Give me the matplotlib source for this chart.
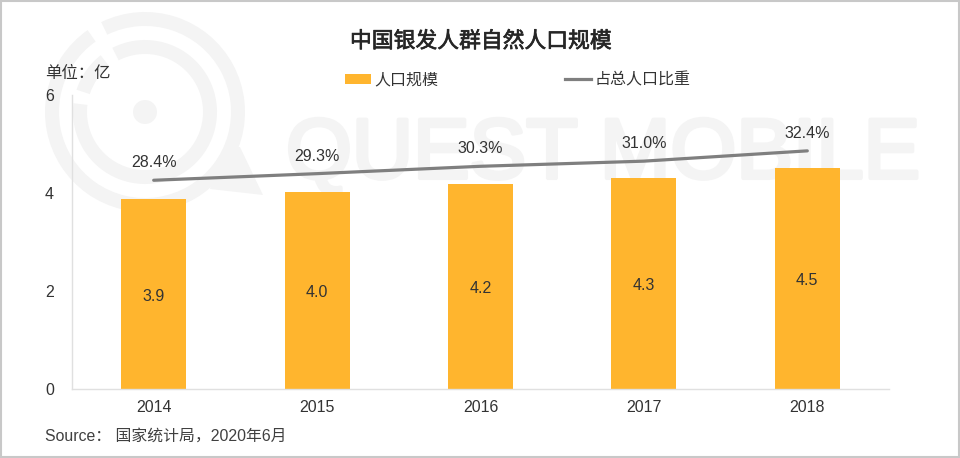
#!/usr/bin/env python3
# 中国银发人群自然人口规模
import matplotlib
matplotlib.use("Agg")
import matplotlib.pyplot as plt
import matplotlib.patheffects as pe
from matplotlib.patches import Circle, Wedge, Polygon, Patch
from matplotlib.lines import Line2D

plt.rcParams['font.family'] = ['Liberation Sans', 'Noto Sans CJK SC', 'DejaVu Sans']

years = ['2014', '2015', '2016', '2017', '2018']
population = [3.88, 4.02, 4.18, 4.31, 4.51]
share = [28.4, 29.3, 30.3, 31.0, 32.4]
yticks = [0, 2, 4, 6]

BAR = '#FFB52E'
LINE = '#7F7F7F'
TEXT = '#333333'
MARK = '#F4F4F4'
W, H = 960, 458
FS = 11.5

fig = plt.figure(figsize=(9.6, 4.58), dpi=100, facecolor='white')

# 水印, 用像素坐标
bg = fig.add_axes([0, 0, 1, 1], zorder=0)
bg.set_xlim(0, W)
bg.set_ylim(H, 0)
bg.axis('off')
cx, cy = 145, 112
# y轴向下, 角度按屏幕顺时针
bg.add_patch(Wedge((cx, cy), 100, -116, 235, width=14, fc=MARK, ec='none'))
bg.add_patch(Wedge((cx, cy), 72, -117, 187, width=14, fc=MARK, ec='none'))
bg.add_patch(Wedge((cx, cy), 72, 198, 232, width=14, fc=MARK, ec='none'))
bg.add_patch(Circle((cx, cy), 12, fc=MARK, ec='none'))
bg.add_patch(Polygon([(224, 148), (240, 147), (263, 195), (210, 189)], fc=MARK, ec='none'))
bg.text(286, 178, 'QUEST MOBILE', fontsize=61, color=MARK, ha='left', va='baseline',
        family='Liberation Sans',
        path_effects=[pe.withStroke(linewidth=3, foreground=MARK)])

ax = fig.add_axes([72 / W, 1 - 389 / H, 817 / W, 294 / H], zorder=1)
ax.patch.set_alpha(0)
x = list(range(len(years)))
bars = ax.bar(x, population, width=0.398, color=BAR, zorder=2)
ax.set_xlim(-0.5, 4.5)
ax.set_ylim(0, 6)
ax.set_xticks(x, years)
ax.set_yticks(yticks)
ax.tick_params(axis='both', length=0, labelsize=FS, labelcolor=TEXT)
ax.tick_params(axis='y', pad=13)
ax.tick_params(axis='x', pad=8)
for s in ['top', 'right']:
    ax.spines[s].set_visible(False)
for s in ['left', 'bottom']:
    ax.spines[s].set_color('#E0E0E0')
    ax.spines[s].set_linewidth(1)

for i, v in enumerate(population):
    ax.annotate(f'{v:.1f}', (i, v / 2), xytext=(0, -1.5), textcoords='offset points',
                ha='center', va='center', fontsize=FS, color=TEXT, zorder=4)

# 比重用次坐标轴
ax2 = ax.twinx()
ax2.patch.set_alpha(0)
ax2.set_ylim(0, 40)
ax2.axis('off')
ax2.plot(x, share, color=LINE, linewidth=2.3, solid_capstyle='round', zorder=3)
for i, v in enumerate(share):
    ax2.annotate(f'{v:.1f}%', (i, v), xytext=(0, 12.5), textcoords='offset points',
                 ha='center', va='center', fontsize=FS, color=TEXT)

fig.text(480.5 / W, 1 - 42 / H, '中国银发人群自然人口规模', ha='center', va='center',
         fontsize=15.7, color='#262626',
         path_effects=[pe.withStroke(linewidth=0.5, foreground='#262626')])
fig.text(45 / W, 1 - 73 / H, '单位：亿', ha='left', va='center', fontsize=11.8,
         fontweight='light', color=TEXT)
fig.text(45 / W, 1 - 436 / H, 'Source： 国家统计局，2020年6月', ha='left', va='center',
         fontsize=11.4, fontweight='light', color='#404040')

handles = [Patch(fc=BAR, ec='none'), Line2D([0], [0], color=LINE, linewidth=2.3)]
fig.legend(handles, ['人口规模', '占总人口比重'], loc='center', bbox_to_anchor=(517.5 / W, 1 - 80 / H),
           ncol=2, frameon=False, prop={'size': 11.5, 'weight': 'light'}, labelcolor=TEXT,
           handlelength=1.65, handleheight=0.6, handletextpad=0.2, columnspacing=7.9,
           borderpad=0, borderaxespad=0)

# 外框
bg.add_patch(plt.Rectangle((0.5, 0.5), W - 1.5, H - 1.5, fc='none', ec='#C8C8C8', lw=1.5))

fig.savefig('out.png', dpi=100)
